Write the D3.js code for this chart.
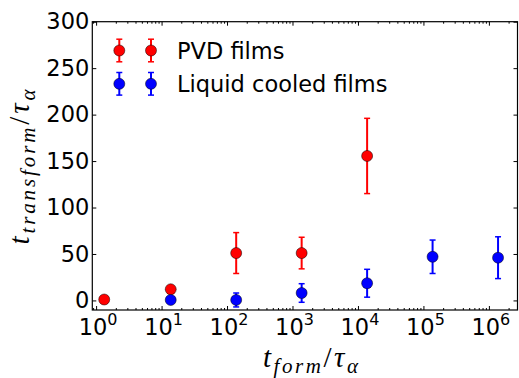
<head>
    <script src="https://d3js.org/d3.v7.min.js"></script>
</head>
<body style="margin:0;background:#fff">
<script>
    // PVD films
    let pvdX = [1.33, 13.8, 138, 1380, 13800];
    let pvdY = [1, 12, 51, 51, 155.5];
    let pvdErr = [0, 2, 22, 17, 40.5];
    // Liquid cooled films
    let lcX = [13.8, 138, 1380, 13800, 138000, 1380000];
    let lcY = [0.5, 0.5, 8, 18.5, 47, 46];
    let lcErr = [0, 7.5, 10, 15, 18, 22.5];

    let yTicks = [0, 50, 100, 150, 200, 250, 300];
    let xExps = [0, 1, 2, 3, 4, 5, 6];
    let legendNames = ["PVD films", "Liquid cooled films"];
    let colors = ["#ff0000", "#0000ff"];

    let width = 519;
    let height = 378;
    let mLeft = 92.3, mRight = 517.5, mTop = 21.7, mBottom = 310;

    let svg = d3.select("body").append("svg")
        .attr("width", width)
        .attr("height", height)
        .style("display", "block");

    let x = d3.scaleLog()
        .domain([Math.pow(10, -0.058), Math.pow(10, 6.437)])
        .range([mLeft, mRight]);
    let y = d3.scaleLinear()
        .domain([-10.3, 300])
        .range([mBottom, mTop]);

    let majors = xExps.map(e => Math.pow(10, e));
    let minors = [];
    for (let e = -1; e <= 6; e++) {
        for (let m = 2; m <= 9; m++) {
            let v = m * Math.pow(10, e);
            if (v >= x.domain()[0] && v <= x.domain()[1]) minors.push(v);
        }
    }

    function cleanAxis(g) {
        g.select(".domain").remove();
        g.selectAll("line").attr("stroke", "#000").attr("stroke-width", 1);
    }

    // ticks pointing inward on all four sides
    svg.append("g").attr("transform", `translate(0,${mBottom})`)
        .call(d3.axisBottom(x).tickValues(majors).tickSize(-4).tickFormat(""))
        .call(cleanAxis);
    svg.append("g").attr("transform", `translate(0,${mBottom})`)
        .call(d3.axisBottom(x).tickValues(minors).tickSize(-2).tickFormat(""))
        .call(cleanAxis);
    svg.append("g").attr("transform", `translate(0,${mTop})`)
        .call(d3.axisTop(x).tickValues(majors).tickSize(-4).tickFormat(""))
        .call(cleanAxis);
    svg.append("g").attr("transform", `translate(0,${mTop})`)
        .call(d3.axisTop(x).tickValues(minors).tickSize(-2).tickFormat(""))
        .call(cleanAxis);

    let yAxis = svg.append("g").attr("transform", `translate(${mLeft},0)`)
        .call(d3.axisLeft(y).tickValues(yTicks).tickSize(-4).tickPadding(3))
        .call(cleanAxis);
    yAxis.selectAll("text")
        .attr("font-family", "DejaVu Sans")
        .attr("font-size", 22.5)
        .attr("fill", "#000");
    svg.append("g").attr("transform", `translate(${mRight},0)`)
        .call(d3.axisRight(y).tickValues(yTicks).tickSize(-4).tickFormat(""))
        .call(cleanAxis);

    // x tick labels 10^n
    let xl = svg.selectAll(".xlab")
        .data(xExps)
        .join("text")
        .attr("class", "xlab")
        .attr("x", d => x(Math.pow(10, d)) + 2)
        .attr("y", 335)
        .attr("text-anchor", "middle")
        .attr("font-family", "DejaVu Sans")
        .attr("font-size", 22.5);
    xl.append("tspan").text("10");
    xl.append("tspan").attr("font-size", 16).attr("dy", -10).text(d => d);

    // frame
    svg.append("rect")
        .attr("x", mLeft).attr("y", mTop)
        .attr("width", mRight - mLeft).attr("height", mBottom - mTop)
        .attr("fill", "none").attr("stroke", "#000").attr("stroke-width", 1.2);

    function drawSeries(xs, ys, errs, color) {
        let pts = xs.map((v, i) => ({x: v, y: ys[i], e: errs[i]}));
        let g = svg.append("g");
        g.selectAll(".bar").data(pts).join("line")
            .attr("x1", d => x(d.x)).attr("x2", d => x(d.x))
            .attr("y1", d => y(d.y - d.e)).attr("y2", d => y(d.y + d.e))
            .attr("stroke", color).attr("stroke-width", 2);
        g.selectAll(".cap").data(pts.flatMap(d => [
            {x: d.x, y: d.y - d.e}, {x: d.x, y: d.y + d.e}]))
            .join("line")
            .attr("x1", d => x(d.x) - 3).attr("x2", d => x(d.x) + 3)
            .attr("y1", d => y(d.y)).attr("y2", d => y(d.y))
            .attr("stroke", color).attr("stroke-width", 1.5);
        g.selectAll("circle").data(pts).join("circle")
            .attr("cx", d => x(d.x)).attr("cy", d => y(d.y))
            .attr("r", 5.5)
            .attr("fill", color)
            .attr("stroke", "#000").attr("stroke-width", 0.5);
    }
    drawSeries(pvdX, pvdY, pvdErr, colors[0]);
    drawSeries(lcX, lcY, lcErr, colors[1]);

    // legend
    legendNames.forEach((name, i) => {
        let ly = 50.5 + i * 33.3;
        let g = svg.append("g");
        [119.3, 151].forEach(lx => {
            g.append("line").attr("x1", lx).attr("x2", lx)
                .attr("y1", ly - 11.3).attr("y2", ly + 11.3)
                .attr("stroke", colors[i]).attr("stroke-width", 2);
            [ly - 11.3, ly + 11.3].forEach(cy => {
                g.append("line").attr("x1", lx - 3).attr("x2", lx + 3)
                    .attr("y1", cy).attr("y2", cy)
                    .attr("stroke", colors[i]).attr("stroke-width", 1.5);
            });
            g.append("circle").attr("cx", lx).attr("cy", ly).attr("r", 5.5)
                .attr("fill", colors[i]).attr("stroke", "#000").attr("stroke-width", 0.5);
        });
        g.append("text")
            .attr("x", 177).attr("y", ly + 8)
            .attr("font-family", "DejaVu Sans")
            .attr("font-size", 22.5)
            .text(name);
    });

    // axis labels (math style)
    function mathLabel(sel, sub, len) {
        sel.attr("font-family", "Liberation Serif")
            .attr("font-style", "italic")
            .attr("font-size", 29)
            .attr("text-anchor", "middle")
            .attr("textLength", len)
            .attr("lengthAdjust", "spacing");
        sel.append("tspan").text("t");
        sel.append("tspan").attr("font-size", 21).attr("dy", 6).text(sub);
        sel.append("tspan").attr("dy", -6).attr("font-style", "normal").text("/");
        sel.append("tspan").text("τ");
        sel.append("tspan").attr("font-size", 21).attr("dy", 6).text("α");
    }
    svg.append("text")
        .attr("x", 310.5).attr("y", 367)
        .call(mathLabel, "form", 95);
    svg.append("text")
        .attr("transform", "translate(29,167) rotate(-90)")
        .call(mathLabel, "transform", 155);
</script>
</body>
</html>
